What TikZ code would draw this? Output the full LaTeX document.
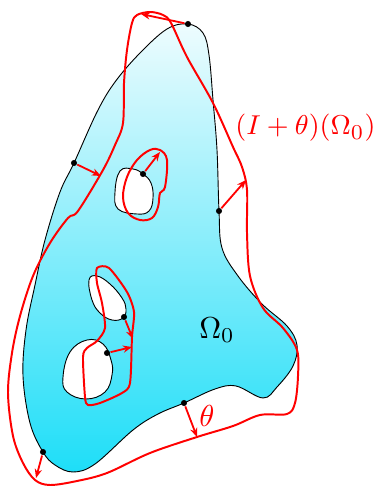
\documentclass[tikz,border=0pt]{standalone}
\usepackage{amsmath}
\usetikzlibrary{arrows.meta}
\definecolor{omegatop}{RGB}{238,252,254}
\definecolor{omegabot}{RGB}{30,222,248}
\tikzset{
bdot/.style={circle, fill=black, inner sep=0pt, minimum size=2pt},
disp/.style={red, semithick, -{Stealth[length=3pt, width=2.4pt]}},
moved/.style={red, line width=0.65pt},
}

\begin{document}
\begin{tikzpicture}[x=0.33pt, y=-0.33pt]
\useasboundingbox (0,0) rectangle (377,486);

\shadedraw[line width=0.3pt, top color=omegatop, bottom color=omegabot, even odd rule]
  plot[smooth cycle, tension=0.6] coordinates {(188,24) (203,33) (209,55) (213,100) (217,150) (219,211) (222,248) (238,276) (262,304) (287,326) (297,345) (293,366) (277,387) (263,398) (236,386) (215,389) (184,403) (158,414) (133,430) (95,464) (73,472) (55,465) (43,452) (30,423) (23,376) (26,330) (35,285) (45,240) (60,192) (74,163) (97,112) (115,82) (140,53) (167,29)}
  plot[smooth cycle, tension=0.7] coordinates {(120,171) (133,169) (143,174) (151,183) (153,198) (149,211) (137,214) (118,209) (115,192)}
  plot[smooth cycle, tension=0.7] coordinates {(89,280) (97,276) (110,284) (122,298) (126,309) (123,318) (112,320) (100,313) (92,300)}
  plot[smooth cycle, tension=0.7] coordinates {(63,377) (70,352) (87,340) (103,344) (111,360) (112,375) (105,392) (86,399) (67,392)};

\draw[moved] plot[smooth cycle, tension=0.55] coordinates {(150,12) (163,15) (171,23) (187,57) (213,103) (233,147) (242,167) (247,190) (247,233) (250,276) (263,308) (283,328) (297,350) (298,376) (295,403) (287,414) (260,415) (233,426) (197,437) (150,453) (107,473) (77,481) (50,485) (35,480) (23,463) (13,436) (8,393) (12,353) (20,316) (33,276) (50,243) (68,218) (78,211) (103,170) (115,145) (123,123) (124,83) (127,50) (132,23) (137,15)};
\draw[moved] plot[smooth cycle, tension=0.6] coordinates {(160,150) (167,160) (165,187) (160,193) (158,207) (152,218) (140,220) (128,213) (123,197) (127,177) (137,160) (150,150)};
\draw[moved] plot[smooth cycle, tension=0.45] coordinates {(97,268) (109,268) (127,292) (134,312) (132,337) (130,383) (122,393) (100,403) (88,405) (85,397) (83,357) (87,348) (97,341) (105,328) (102,303) (97,283)};

\node[bdot] (p1) at (188,24) {};
\node[bdot] (p2) at (74,163) {};
\node[bdot] (p3) at (219,211) {};
\node[bdot] (p4) at (143,174) {};
\node[bdot] (p5) at (124,317) {};
\node[bdot] (p6) at (107,353) {};
\node[bdot] (p7) at (184,403) {};
\node[bdot] (p8) at (43,452) {};

\coordinate (q1) at (141,14);
\coordinate (q2) at (101,176);
\coordinate (q3) at (246,180);
\coordinate (q4) at (160,152);
\coordinate (q5) at (133,339);
\coordinate (q6) at (132,347);
\coordinate (q7) at (197,437);
\coordinate (q8) at (36,478);

\foreach \i in {1,...,8}
  \draw[disp] (p\i) -- (q\i);

\node (omega) at (217,330) {$\Omega_0$};
\node[red, anchor=east, inner sep=0pt, font=\fontsize{9.4pt}{11pt}\selectfont] (image) at (376,128) {$(I+\theta)(\Omega_0)$};
\node[red] (theta) at (207,416) {$\theta$};
\end{tikzpicture}
\end{document}
